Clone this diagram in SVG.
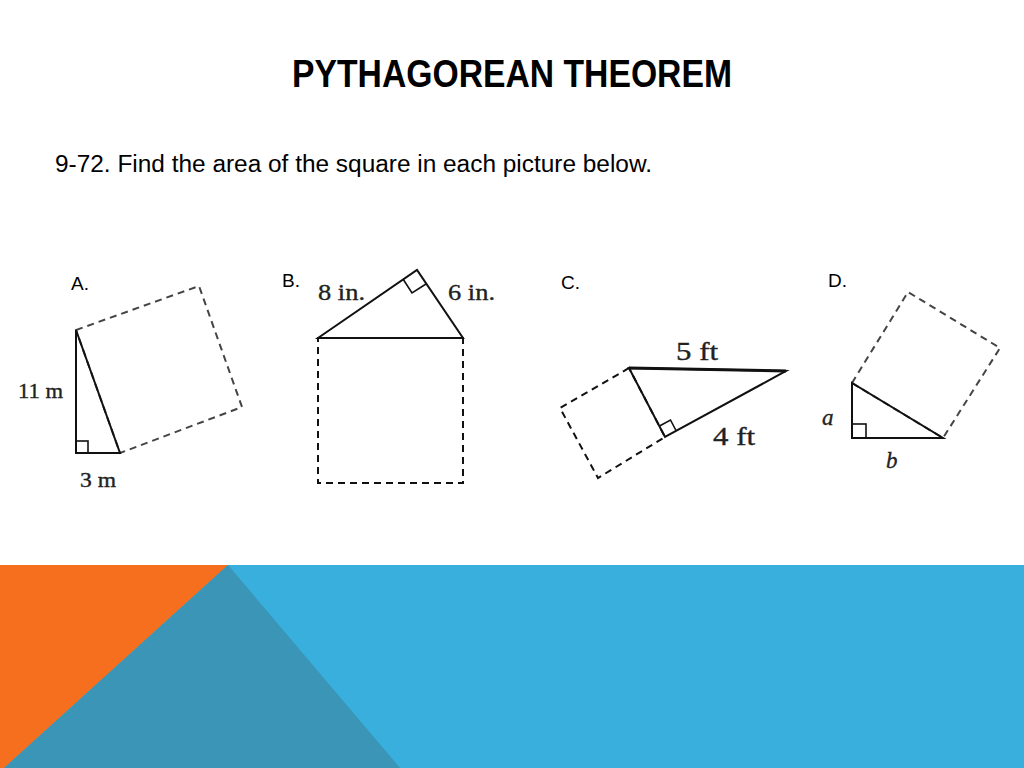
<svg xmlns="http://www.w3.org/2000/svg" width="1024" height="768" viewBox="0 0 1024 768">
<style>
.t{font-family:"Liberation Sans",Arial,sans-serif;fill:#000}
.s{font-family:"Liberation Serif","Times New Roman",serif;fill:#222;stroke:#222;stroke-width:0.35}
.solid{fill:none;stroke:#111;stroke-width:2}
.dash{fill:none;stroke:#444;stroke-width:2;stroke-dasharray:7,5}
.dashk{fill:none;stroke:#111;stroke-width:2;stroke-dasharray:7,5}
.ra{fill:none;stroke:#111;stroke-width:1.6}
</style>
<rect x="0" y="0" width="1024" height="768" fill="#fff"/>
<g id="banner">
<rect x="0" y="565" width="1024" height="203" fill="#38AFDC"/>
<polygon points="0,565 228,565 4,768 0,768" fill="#F56F1E"/>
<polygon points="228,565 400,768 4,768" fill="#3A95B6"/>
</g>
<text class="t" x="512" y="87" font-size="38" font-weight="bold" text-anchor="middle" textLength="440" lengthAdjust="spacingAndGlyphs">PYTHAGOREAN THEOREM</text>
<text class="t" x="55" y="172" font-size="23" textLength="597" lengthAdjust="spacingAndGlyphs">9-72. Find the area of the square in each picture below.</text>
<g id="figA">
<text class="t" x="71" y="290" font-size="19">A.</text>
<polygon class="dash" points="76,330 199,286 242,407 120,453"/>
<polygon class="solid" points="76,330 76,453 120,453"/>
<rect class="ra" x="76" y="441" width="12" height="12"/>
<text class="s" x="18" y="398" font-size="21" textLength="45" lengthAdjust="spacingAndGlyphs">11 m</text>
<text class="s" x="80" y="487" font-size="21" textLength="36" lengthAdjust="spacingAndGlyphs">3 m</text>
</g>
<g id="figB">
<text class="t" x="282" y="287" font-size="19">B.</text>
<rect class="dashk" x="318" y="338" width="145" height="145"/>
<polygon class="solid" points="318,338 417,270 463,338"/>
<polyline class="ra" points="403,279 412,293 426,284"/>
<text class="s" x="318" y="300" font-size="23" textLength="47" lengthAdjust="spacingAndGlyphs">8 in.</text>
<text class="s" x="448" y="300" font-size="23" textLength="47" lengthAdjust="spacingAndGlyphs">6 in.</text>
</g>
<g id="figC">
<text class="t" x="561" y="289" font-size="19">C.</text>
<polygon class="dashk" points="629,368 560,408 598,478 665,437" stroke-width="1.6"/>
<polygon class="solid" points="629,368 786,371 665,437"/>
<line x1="629" y1="368" x2="786" y2="371" stroke="#111" stroke-width="3"/>
<polyline class="ra" points="659.5,426 670.5,420 676,430.5"/>
<text class="s" x="676" y="360" font-size="26" textLength="42" lengthAdjust="spacingAndGlyphs">5 ft</text>
<text class="s" x="713" y="445" font-size="26" textLength="42" lengthAdjust="spacingAndGlyphs">4 ft</text>
</g>
<g id="figD">
<text class="t" x="828" y="287" font-size="19">D.</text>
<polygon class="dash" points="852,383 908,292 1000,348 943,438"/>
<polygon class="solid" points="852,383 852,438 943,438"/>
<rect class="ra" x="852" y="424" width="14" height="14"/>
<text class="s" x="822" y="425" font-size="23" font-style="italic">a</text>
<text class="s" x="886" y="468" font-size="23" font-style="italic">b</text>
</g>
</svg>
